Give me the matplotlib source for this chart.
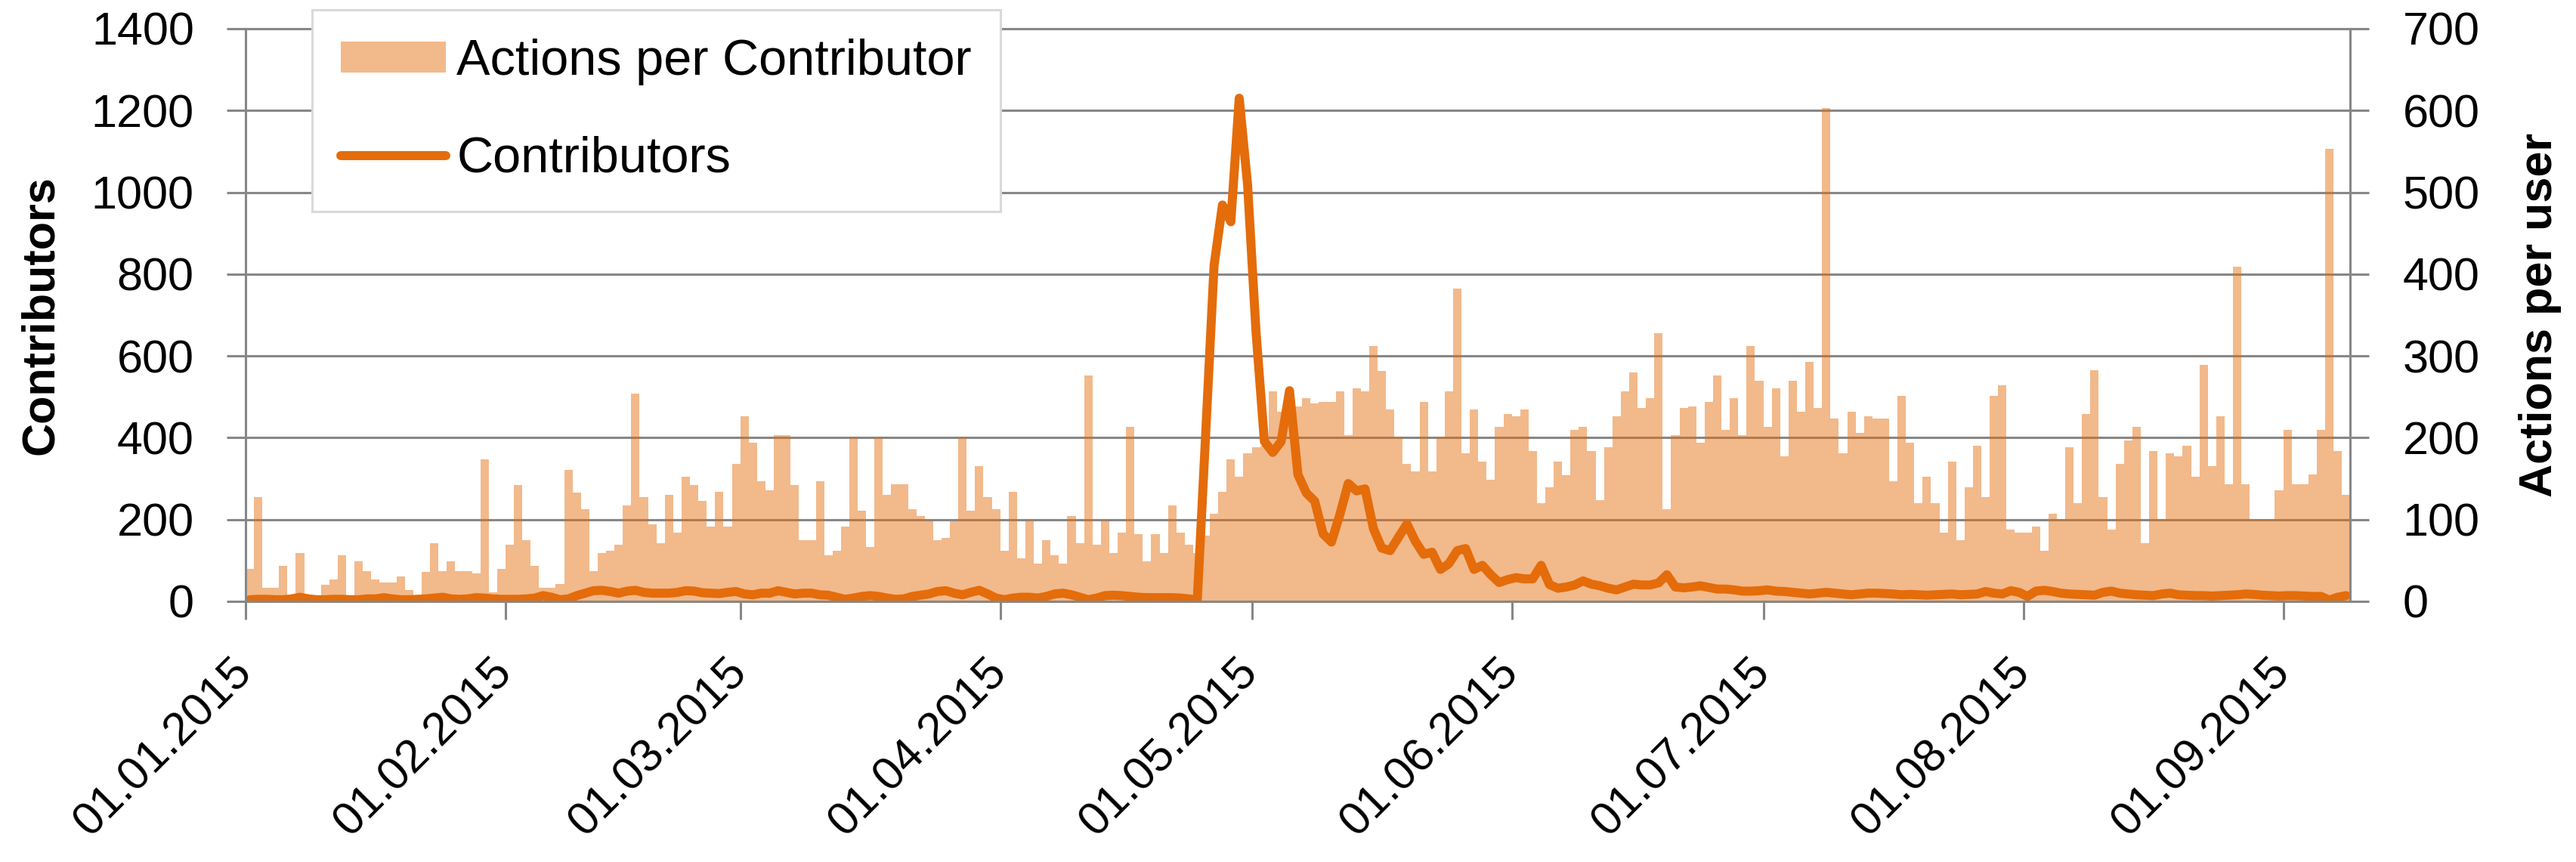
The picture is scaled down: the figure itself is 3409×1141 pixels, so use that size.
import matplotlib
matplotlib.use("Agg")
import matplotlib.pyplot as plt
import matplotlib.dates as mdates
import pandas as pd

plt.rcParams["font.family"] = ["Liberation Sans", "DejaVu Sans"]

# ---------- 1. data (one value per day, 01.01.2015 - 08.09.2015) ----------
# actions per contributor (right axis)
actions_jan = [40, 127, 17, 17, 43, 5, 59, 5, 5, 20, 27, 56, 5, 49, 37, 27, 23, 23, 30, 14,
               5, 36, 71, 37, 49, 37, 37, 34, 174, 11, 40]
actions_feb = [69, 142, 75, 43, 17, 17, 21, 161, 133, 113, 37, 59, 62, 69, 117, 254, 127, 94,
               71, 130, 84, 152, 142, 123, 91, 134, 91, 168]
actions_mar = [226, 194, 147, 136, 203, 203, 142, 75, 75, 147, 56, 62, 91, 200, 111, 66, 200,
               130, 143, 143, 113, 104, 99, 75, 78, 98, 200, 111, 165, 127, 113]
actions_apr = [62, 134, 53, 99, 46, 75, 56, 46, 104, 71, 276, 69, 99, 59, 84, 213, 82, 49, 82,
               59, 117, 84, 69, 59, 80, 107, 134, 174, 152, 181]
actions_may = [188, 190, 257, 232, 240, 238, 248, 242, 244, 244, 257, 203, 260, 257, 312, 282,
               235, 201, 168, 159, 244, 159, 201, 257, 382, 181, 235, 171, 149, 213, 229]
actions_jun = [226, 235, 184, 120, 139, 171, 154, 210, 213, 184, 124, 188, 226, 257, 280, 236,
               248, 328, 113, 203, 236, 238, 194, 244, 276, 210, 248, 203, 312, 270]
actions_jul = [213, 260, 177, 270, 232, 293, 236, 603, 223, 181, 232, 206, 226, 223, 223, 147,
               251, 194, 120, 152, 120, 84, 171, 75, 139, 190, 127, 251, 264, 88, 84]
actions_aug = [84, 91, 62, 107, 100, 188, 120, 229, 283, 127, 88, 168, 197, 213, 71, 184, 100,
               181, 177, 190, 152, 289, 165, 226, 143, 409, 143, 100, 100, 100, 136]
actions_sep = [210, 143, 143, 155, 210, 553, 184, 130]

# contributors (left axis)
contrib_jan = [4, 5, 5, 4, 4, 6, 10, 6, 4, 4, 5, 5, 4, 4, 6, 6, 9, 6, 4, 4, 5, 6, 8, 10, 6,
               5, 6, 9, 8, 6, 5]
contrib_feb = [5, 5, 6, 8, 14, 10, 4, 6, 14, 20, 26, 27, 24, 20, 25, 27, 22, 20, 20, 20, 22,
               26, 25, 21, 20, 19, 22, 24]
contrib_mar = [18, 16, 20, 20, 26, 22, 18, 20, 20, 16, 15, 10, 5, 8, 12, 14, 12, 8, 5, 6, 12,
               15, 18, 24, 26, 20, 16, 22, 27, 18, 8]
contrib_apr = [4, 8, 10, 10, 8, 12, 18, 20, 16, 10, 4, 8, 14, 15, 14, 12, 10, 9, 9, 9, 9, 8,
               6, 3, 409, 821, 969, 928, 1230, 1018]
contrib_may = [660, 391, 364, 391, 515, 310, 265, 245, 165, 145, 212, 288, 270, 275, 178, 130,
               124, 157, 189, 147, 115, 120, 78, 92, 124, 129, 78, 88, 65, 46, 53]
contrib_jun = [58, 55, 55, 88, 41, 32, 35, 40, 50, 42, 38, 32, 28, 35, 42, 40, 40, 45, 65, 35,
               33, 35, 38, 34, 30, 30, 28, 25, 25, 26]
contrib_jul = [28, 25, 24, 22, 20, 18, 20, 22, 20, 18, 16, 18, 20, 20, 19, 18, 16, 17, 16, 15,
               16, 17, 18, 16, 17, 18, 24, 20, 18, 26, 22]
contrib_aug = [12, 25, 27, 24, 20, 18, 17, 16, 15, 22, 25, 20, 18, 16, 15, 14, 18, 20, 16, 15,
               14, 14, 13, 14, 15, 16, 18, 17, 15, 14, 13]
contrib_sep = [14, 14, 13, 12, 12, 3, 10, 14]

actions = (actions_jan + actions_feb + actions_mar + actions_apr + actions_may
           + actions_jun + actions_jul + actions_aug + actions_sep)
contributors = (contrib_jan + contrib_feb + contrib_mar + contrib_apr + contrib_may
                + contrib_jun + contrib_jul + contrib_aug + contrib_sep)

days = pd.date_range("2015-01-01", periods=len(actions))
centers = days + pd.Timedelta(hours=12)

# ---------- 2. style ----------
ORANGE = "#E46C0A"
GRID = "#878787"
LW_GRID = 2.2
TICK_FS = 44

# ---------- 3. figure ----------
fig = plt.figure(figsize=(34.09, 11.41), dpi=100)
ax = fig.add_axes([0.0953, 0.3024, 0.8171, 0.6643])
ax2 = ax.twinx()

bars = ax2.bar(centers, actions, width=1.0, color=ORANGE, alpha=0.47, linewidth=0,
               label="Actions per Contributor")
line, = ax.plot(centers, contributors, color=ORANGE, lw=8.6, solid_joinstyle="round",
                solid_capstyle="round", label="Contributors")

# line axis drawn above the bars axis
ax.set_zorder(ax2.get_zorder() + 1)
ax.patch.set_visible(False)

ax.set_xlim(pd.Timestamp("2015-01-01"), pd.Timestamp("2015-01-01") + pd.Timedelta(days=len(actions)))
ax.set_ylim(0, 1400)
ax.set_yticks(range(0, 1401, 200))
ax2.set_ylim(0, 700)
ax2.set_yticks(range(0, 701, 100))

ax2.grid(axis="y", color=GRID, lw=LW_GRID)
ax2.set_axisbelow(True)

ax.xaxis.set_major_locator(mdates.MonthLocator())
ax.xaxis.set_major_formatter(mdates.DateFormatter("%d.%m.%Y"))

ax.tick_params(axis="x", direction="out", length=17, width=LW_GRID, color=GRID,
               pad=44, labelsize=TICK_FS)
ax.tick_params(axis="y", direction="out", length=18, width=LW_GRID, color=GRID,
               pad=31, labelsize=TICK_FS)
ax2.tick_params(axis="y", direction="out", length=18, width=LW_GRID, color=GRID,
                pad=32, labelsize=TICK_FS)
for lbl in ax.get_xticklabels():
    lbl.set(rotation=45, ha="right", va="center", rotation_mode="anchor")

for s in ax.spines.values():
    s.set_color(GRID)
    s.set_linewidth(LW_GRID)
for s in ax2.spines.values():
    s.set_visible(False)

ax.set_ylabel("Contributors", fontsize=44, fontweight="bold")
ax.yaxis.set_label_coords(-0.0869, 0.5)
ax2.set_ylabel("Actions per user", fontsize=44, fontweight="bold")
ax2.yaxis.set_label_coords(1.0798, 0.5)

leg = ax.legend([bars, line], ["Actions per Contributor", "Contributors"],
                loc="upper left", bbox_to_anchor=(413 / 3409, 1 - 13 / 1141),
                bbox_transform=fig.transFigure, borderaxespad=0, fontsize=48,
                handlelength=2.08, handleheight=0.57, handletextpad=0.22,
                labelspacing=1.0, borderpad=0.57, fancybox=False, framealpha=1)
leg.get_frame().set_edgecolor("#D9D9D9")
leg.get_frame().set_linewidth(2.2)

fig.savefig("out.png", dpi=100, facecolor="white")
